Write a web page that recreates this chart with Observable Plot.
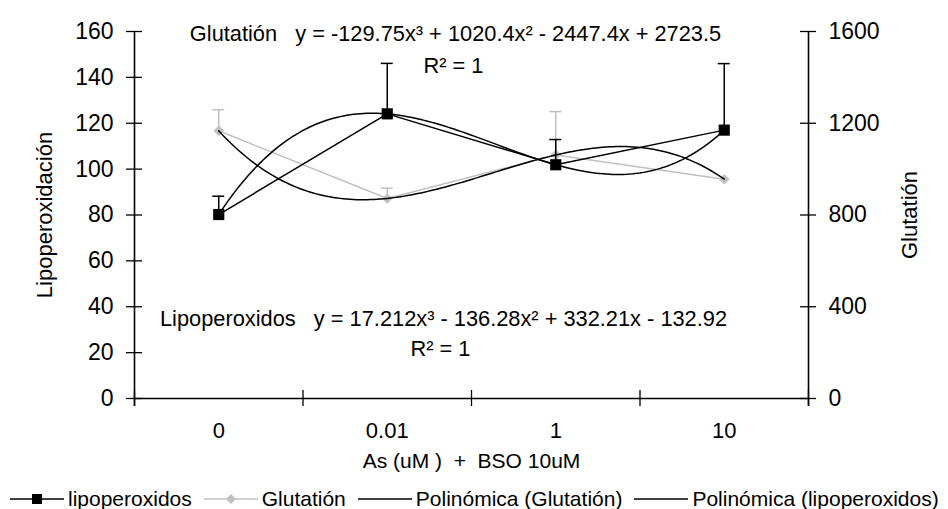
<!DOCTYPE html>
<html>
<head>
<meta charset="utf-8">
<script src="https://cdn.jsdelivr.net/npm/d3@7"></script>
<script src="https://cdn.jsdelivr.net/npm/@observablehq/plot@0.6"></script>
<style>
  body { margin: 0; background: #fff; font-family: "Liberation Sans", Arial, sans-serif; }
  #legend { display: flex; align-items: center; height: 20px; font-size: 21px; line-height: 20px; white-space: nowrap; color: #000; padding-left: 10px; }
  #legend .item { display: flex; align-items: center; margin-right: 12px; }
  #legend .item svg { display: block; margin-right: 4px; }
</style>
</head>
<body>
<div id="chart"></div>
<div id="legend"></div>
<script>
// Doses of arsenic (with BSO 10 uM) on the x axis
const doses = ["0", "0.01", "1", "10"];

// Lipid peroxidation (left axis): means and upper error
const lipo = [80.2, 124.1, 101.9, 117.0];
const lipoErr = [8, 22, 11, 29];

// Glutathione (right axis): means and upper error
const glut = [1167, 872, 1062, 956];
const glutErr = [92, 45, 189, 0];

// Cubic trendline coefficients, highest power first
const lipoCoef = [17.212, -136.28, 332.21, -132.92];
const glutCoef = [-129.75, 1020.4, -2447.4, 2723.5];
const r2 = 1;

// Axis ticks
const leftTicks = [0, 20, 40, 60, 80, 100, 120, 140, 160];
const rightTicks = [0, 400, 800, 1200, 1600];

const yLeftMax = 160, yRightMax = 1600;
const k = yLeftMax / yRightMax;   // right-axis value -> left-axis units

const rows = doses.map((d, i) => ({
  i: i + 1,
  lipo: lipo[i],
  lipoTop: lipo[i] + lipoErr[i],
  glut: glut[i] * k,
  glutTop: (glut[i] + glutErr[i]) * k,
  glutHasErr: glutErr[i] > 0
}));
const glutErrRows = rows.filter(r => r.glutHasErr);

// Evaluate a polynomial (Horner)
const poly = (c, x) => c.reduce((acc, a) => acc * x + a, 0);
const xs = d3.range(1, doses.length + 1e-9, 0.02);

const sup = {3: "\u00b3", 2: "\u00b2"};
function equation(c) {
  const n = c.length - 1;
  return "y = " + c.map((a, j) => {
    const p = n - j;
    const term = Math.abs(a) + (p > 1 ? "x" + sup[p] : p === 1 ? "x" : "");
    if (j === 0) return (a < 0 ? "-" : "") + term;
    return (a < 0 ? " - " : " + ") + term;
  }).join("");
}
const sp = "\u00a0\u00a0\u00a0";
const glutEq = "Glutati\u00f3n" + sp + equation(glutCoef);
const lipoEq = "Lipoperoxidos" + sp + equation(lipoCoef);
const r2Text = "R\u00b2 = " + r2;

const bounds = d3.range(doses.length + 1).map(i => i + 0.5);
const gray = "#c0c0c0";
const font = "Liberation Sans, Arial, sans-serif";

const chart = Plot.plot({
  width: 948,
  height: 489,
  marginLeft: 134,
  marginRight: 140,
  marginTop: 31,
  marginBottom: 91,
  style: {fontFamily: font, fontSize: "22px", color: "#000", background: "#fff"},
  x: {type: "linear", domain: [0.5, doses.length + 0.5]},
  y: {domain: [0, yLeftMax]},
  marks: [
    // axes lines
    Plot.ruleY([0], {stroke: "#000", strokeWidth: 1.6}),
    Plot.ruleX([0.5, doses.length + 0.5], {y1: yLeftMax, y2: 0, insetBottom: -8, stroke: "#000", strokeWidth: 1.6}),
    // crossing tick marks
    Plot.ruleX(bounds, {y1: 0, y2: 0, insetTop: -8, insetBottom: -8, stroke: "#000", strokeWidth: 1.3}),
    Plot.ruleY(leftTicks, {x1: 0.5, x2: 0.5, insetLeft: -8, insetRight: -8, stroke: "#000", strokeWidth: 1.3}),
    Plot.ruleY(rightTicks.map(v => v * k), {x1: doses.length + 0.5, x2: doses.length + 0.5, insetLeft: -8, insetRight: -8, stroke: "#000", strokeWidth: 1.3}),
    // tick labels
    Plot.axisY(leftTicks, {anchor: "left", tickSize: 0, tickPadding: 21, fontSize: 23, label: null}),
    Plot.axisY(rightTicks.map(v => v * k), {anchor: "right", tickSize: 0, tickPadding: 20, fontSize: 23, label: null, tickFormat: d => String(Math.round(d / k))}),
    Plot.axisX(d3.range(1, doses.length + 1), {anchor: "bottom", tickSize: 0, tickPadding: 24, fontSize: 22, label: null, tickFormat: d => doses[d - 1]}),
    // axis titles
    Plot.text(["Lipoperoxidaci\u00f3n"], {frameAnchor: "left", textAnchor: "middle", rotate: -90, dx: -90, fontSize: 22, style: "letter-spacing:1px"}),
    Plot.text(["Glutati\u00f3n"], {frameAnchor: "right", textAnchor: "middle", rotate: -90, dx: 101, fontSize: 22, style: "letter-spacing:1px"}),
    Plot.text(["As (uM )\u00a0 +\u00a0 BSO 10uM"], {frameAnchor: "bottom", textAnchor: "middle", dy: 69, fontSize: 21}),
    // glutathione series
    Plot.ruleX(glutErrRows, {x: "i", y1: "glut", y2: "glutTop", stroke: gray, strokeWidth: 1.5}),
    Plot.ruleY(glutErrRows, {y: "glutTop", x1: "i", x2: "i", insetLeft: -6, insetRight: -6, stroke: gray, strokeWidth: 1.5}),
    Plot.line(rows, {x: "i", y: "glut", stroke: gray, strokeWidth: 1.5}),
    Plot.dot(rows, {x: "i", y: "glut", symbol: "diamond2", r: 4.8, fill: gray, stroke: "none"}),
    // lipoperoxide series
    Plot.ruleX(rows, {x: "i", y1: "lipo", y2: "lipoTop", stroke: "#000", strokeWidth: 1.5}),
    Plot.ruleY(rows, {y: "lipoTop", x1: "i", x2: "i", insetLeft: -6, insetRight: -6, stroke: "#000", strokeWidth: 1.5}),
    Plot.line(rows, {x: "i", y: "lipo", stroke: "#000", strokeWidth: 1.5}),
    // cubic trendlines
    Plot.line(xs, {x: d => d, y: d => poly(glutCoef, d) * k, stroke: "#000", strokeWidth: 1.5}),
    Plot.line(xs, {x: d => d, y: d => poly(lipoCoef, d), stroke: "#000", strokeWidth: 1.5}),
    Plot.dot(rows, {x: "i", y: "lipo", symbol: "square", r: 6.3, fill: "#000", stroke: "none"}),
    // trendline equations
    Plot.text([glutEq], {frameAnchor: "top-left", dx: 321, dy: -6, fontSize: 21.8, textAnchor: "middle"}),
    Plot.text([r2Text], {frameAnchor: "top-left", dx: 319, dy: 26, fontSize: 21.8, textAnchor: "middle"}),
    Plot.text([lipoEq], {frameAnchor: "top-left", dx: 309, dy: 279, fontSize: 21.8, textAnchor: "middle"}),
    Plot.text([r2Text], {frameAnchor: "top-left", dx: 306, dy: 309, fontSize: 21.8, textAnchor: "middle"})
  ]
});
document.getElementById("chart").appendChild(chart);

// Legend below the chart
const legendItems = [
  {label: "lipoperoxidos", stroke: "#000", marker: "square"},
  {label: "Glutati\u00f3n", stroke: gray, marker: "diamond"},
  {label: "Polin\u00f3mica (Glutati\u00f3n)", stroke: "#000", marker: null},
  {label: "Polin\u00f3mica (lipoperoxidos)", stroke: "#000", marker: null}
];
const legend = d3.select("#legend");
for (const it of legendItems) {
  const item = legend.append("div").attr("class", "item");
  const s = item.append("svg").attr("width", 54).attr("height", 14);
  s.append("line").attr("x1", 0).attr("x2", 54).attr("y1", 7).attr("y2", 7)
    .attr("stroke", it.stroke).attr("stroke-width", 1.6);
  if (it.marker === "square") {
    s.append("rect").attr("x", 22).attr("y", 2).attr("width", 10).attr("height", 10).attr("fill", "#000");
  } else if (it.marker === "diamond") {
    s.append("path").attr("d", "M27,2L32,7L27,12L22,7Z").attr("fill", gray);
  }
  item.append("span").text(it.label);
}
</script>
</body>
</html>
